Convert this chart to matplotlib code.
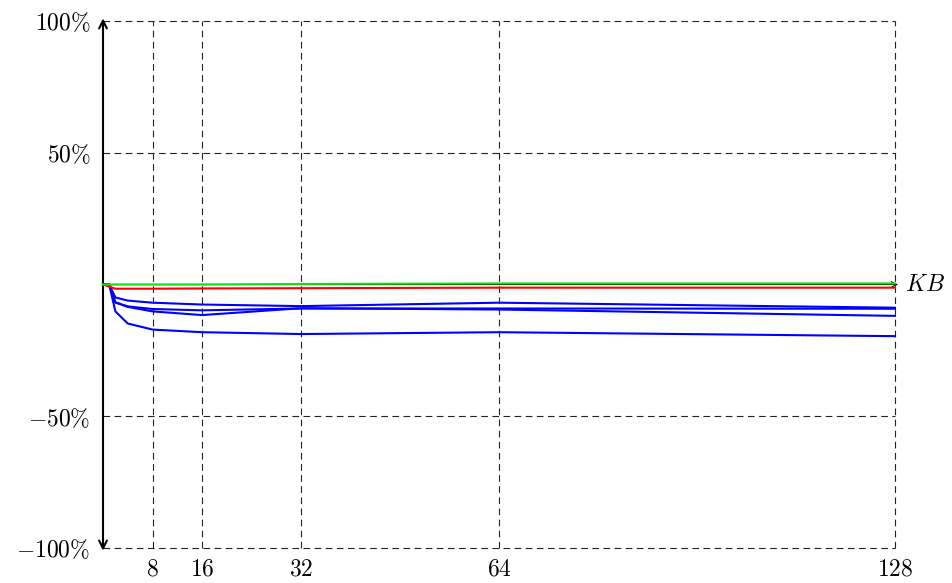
import matplotlib
matplotlib.use("Agg")
import matplotlib.pyplot as plt

plt.rcParams['mathtext.fontset'] = 'cm'
plt.rcParams['font.family'] = ['DejaVu Serif']

# block sizes (KB) and relative change in %
sizes = [0, 1, 2, 4, 8, 16, 32, 64, 128]
green = [0, 0, 0, 0, 0, 0, 0.2, 0.4, 0.4]
red = [0, -0.8, -1.6, -1.6, -1.6, -1.5, -1.4, -1.2, -1.2]
blue_a = [0, 0, -4.9, -6.1, -6.9, -7.6, -8.2, -6.9, -8.8]
blue_b = [0, 0, -6.8, -8.3, -9.3, -9.8, -9.1, -9.1, -9.2]
blue_c = [0, 0, -6.8, -8.5, -10.2, -11.6, -9.0, -9.5, -11.9]
blue_d = [0, 0, -10.2, -14.8, -17.1, -18.1, -18.8, -18.1, -19.6]

xticks = [8, 16, 32, 64, 128]
yticks = [-100, -50, 50, 100]
ytick_labels = [r'$-100\%$', r'$-50\%$', r'$50\%$', r'$100\%$']

fig = plt.figure(figsize=(9.52, 5.83), dpi=100)
ax = fig.add_axes([0.1082, 0.06, 0.8319, 0.904])
ax.set_xlim(0, 128)
ax.set_ylim(-100, 100)
for s in ax.spines.values():
    s.set_visible(False)

# dashed grid
for x in xticks:
    ax.axvline(x, color='#222222', lw=0.8, ls=(0, (6, 4)), clip_on=False, zorder=1)
for y in yticks:
    ax.axhline(y, color='#222222', lw=0.8, ls=(0, (6, 4)), clip_on=False, zorder=1)

# axes with arrows
ax.annotate('', xy=(0, 101), xytext=(0, -101),
            arrowprops=dict(arrowstyle='<->', color='black', lw=1.5,
                            shrinkA=0, shrinkB=0, mutation_scale=14),
            annotation_clip=False, zorder=3)
ax.annotate('', xy=(128.5, 0), xytext=(0, 0),
            arrowprops=dict(arrowstyle='->', color='black', lw=0.8,
                            shrinkA=0, shrinkB=0, mutation_scale=10),
            annotation_clip=False, zorder=2)
ax.text(129.6, 0, r'$KB$', fontsize=17, va='center', ha='left')

for vals in [blue_a, blue_b, blue_c, blue_d]:
    ax.plot(sizes, vals, color='#0000ff', lw=1.5, zorder=4, clip_on=False)
ax.plot(sizes, red, color='#ff0000', lw=1.5, zorder=5, clip_on=False)
ax.plot(sizes, green, color='#10e010', lw=1.5, zorder=6, clip_on=False)

ax.set_xticks(xticks)
ax.set_xticklabels([rf'${v}$' for v in xticks], fontsize=17)
ax.set_yticks(yticks)
ax.set_yticklabels(ytick_labels, fontsize=17)
ax.tick_params(axis='both', length=0)
ax.tick_params(axis='x', pad=7)
ax.tick_params(axis='y', pad=9)

fig.savefig('out.png', dpi=100)
